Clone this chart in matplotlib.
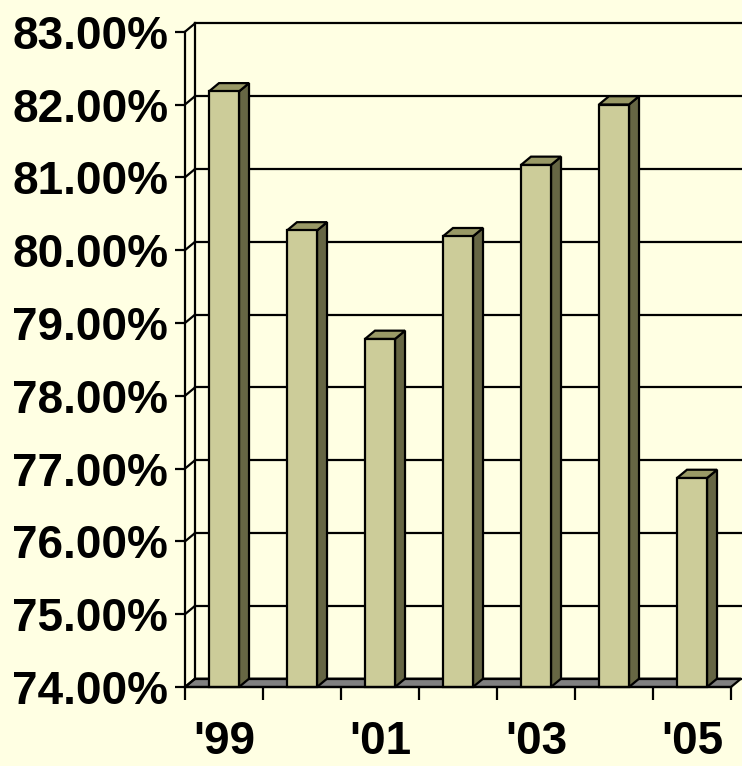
import numpy as np
import matplotlib.pyplot as plt
from matplotlib.patches import Polygon

plt.rcParams['font.family'] = ['Liberation Sans', 'DejaVu Sans']

years = ["'99", "'00", "'01", "'02", "'03", "'04", "'05"]
shown = ["'99", "", "'01", "", "'03", "", "'05"]
rates = [82.18, 80.27, 78.78, 80.19, 81.17, 82.00, 76.87]
ylow, yhigh = 74, 83

bg = '#FFFFE3'
front = '#CCCC99'
side = '#666644'
top = '#999966'
floor = '#808080'
lw = 1.6

fig = plt.figure(figsize=(7.42, 7.66), dpi=100, facecolor=bg)
W, H = 742, 766
ax = fig.add_axes([185 / W, (H - 687) / H, (731 - 185) / W, (687 - 31.7) / H])
ax.set_facecolor('none')

n = len(rates)
x = np.arange(n)
ax.set_xlim(-0.5, n - 0.5)
ax.set_ylim(ylow, yhigh)

# depth offset in data units (about 10 px right, 8 px up)
dx = 10 / 78
dy = 8.3 / 72.8
bw = 0.385

# floor
ax.add_patch(Polygon([(-0.5, ylow), (n - 0.5, ylow), (n - 0.5 + dx, ylow + dy), (-0.5 + dx, ylow + dy)],
                     closed=True, facecolor=floor, edgecolor='black', lw=lw, clip_on=False, zorder=1))

# back wall gridlines and left wall
for v in range(ylow, yhigh + 1):
    ax.plot([-0.5 + dx, n - 0.5 + dx], [v + dy, v + dy], color='black', lw=lw, clip_on=False, zorder=1)
    ax.plot([-0.5, -0.5 + dx], [v, v + dy], color='black', lw=lw, clip_on=False, zorder=1)
ax.plot([-0.5 + dx, -0.5 + dx], [ylow + dy, yhigh + dy], color='black', lw=lw, clip_on=False, zorder=1)

# bars
for xi, v in zip(x, rates):
    x0, x1 = xi - bw / 2, xi + bw / 2
    ax.add_patch(Polygon([(x1, ylow), (x1 + dx, ylow + dy), (x1 + dx, v + dy), (x1, v)],
                         closed=True, facecolor=side, edgecolor='black', lw=lw, clip_on=False, zorder=2))
    ax.add_patch(Polygon([(x0, v), (x0 + dx, v + dy), (x1 + dx, v + dy), (x1, v)],
                         closed=True, facecolor=top, edgecolor='black', lw=lw, clip_on=False, zorder=2))
    ax.add_patch(Polygon([(x0, ylow), (x1, ylow), (x1, v), (x0, v)],
                         closed=True, facecolor=front, edgecolor='black', lw=lw, clip_on=False, zorder=3))

for s in ['top', 'right']:
    ax.spines[s].set_visible(False)
for s in ['left', 'bottom']:
    ax.spines[s].set_linewidth(lw)
    ax.spines[s].set_zorder(4)

ax.set_yticks(range(ylow, yhigh + 1))
ax.set_yticklabels(['%.2f%%' % v for v in range(ylow, yhigh + 1)])
ax.tick_params(axis='y', length=7, width=lw, direction='out', pad=5, labelsize=33)

ax.set_xticks(x)
ax.set_xticklabels(shown)
ax.set_xticks(np.arange(-0.5, n, 1), minor=True)
ax.tick_params(axis='x', which='major', length=0, pad=24, labelsize=33)
ax.tick_params(axis='x', which='minor', length=9, width=lw, direction='out')
for t in ax.get_xticklabels() + ax.get_yticklabels():
    t.set_fontweight('bold')

fig.savefig('out.png', dpi=100, facecolor=bg)
